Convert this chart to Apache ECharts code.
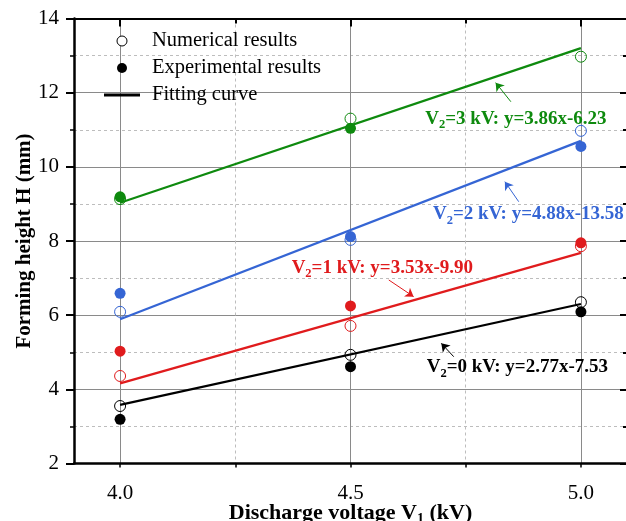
<!DOCTYPE html>
<html><head><meta charset="utf-8">
<script src="https://cdn.jsdelivr.net/npm/echarts@6/dist/echarts.min.js"></script>
<style>html,body{margin:0;padding:0;background:#fff}#c{width:626px;height:521px}</style>
</head><body><div id="c"></div>
<script>
// ---- data ----
const voltages = [4.0, 4.5, 5.0];
const xTickValues = [4.0, 4.5, 5.0];
const xMinorTickValues = [4.25, 4.75];
const v2Values = [0, 1, 2, 3];
const numerical0 = [3.55, 4.93, 6.35];
const numerical1 = [4.36, 5.71, 7.86];
const numerical2 = [6.09, 8.03, 10.97];
const numerical3 = [9.13, 11.30, 12.97];
const experimental0 = [3.19, 4.61, 6.09];
const experimental1 = [5.03, 6.25, 7.95];
const experimental2 = [6.59, 8.12, 10.55];
const experimental3 = [9.19, 11.04, null];
const fitEnds = [4.0, 5.0];
const fit0 = [3.58, 6.30];
const fit1 = [4.16, 7.68];
const fit2 = [5.89, 10.70];
const fit3 = [9.03, 13.20];
const equations = ['y=2.77x-7.53', 'y=3.53x-9.90', 'y=4.88x-13.58', 'y=3.86x-6.23'];

const numerical = [numerical0, numerical1, numerical2, numerical3];
const experimental = [experimental0, experimental1, experimental2, experimental3];
const fits = [fit0, fit1, fit2, fit3];
const colors = ['#000000', '#e01b1d', '#3565d4', '#0e8a0e'];
// annotation anchors (data coordinates): label centre, arrow tail, arrow head
const annot = [
  {label: [4.862, 4.59], tail: [4.724, 4.88], head: [4.697, 5.24]},
  {label: [4.569, 7.27], tail: [4.583, 6.95], head: [4.637, 6.50]},
  {label: [4.886, 8.72], tail: [4.865, 9.06], head: [4.835, 9.60]},
  {label: [4.859, 11.30], tail: [4.848, 11.756], head: [4.815, 12.27]}
];

const FONT = '"Liberation Serif", "Times New Roman", serif';
const pairs = (xs, ys) => xs.map((x, i) => [x, ys[i]]).filter(p => p[1] != null);

const series = [];
v2Values.forEach((v, k) => {
  const c = colors[k];
  const a = annot[k];
  series.push({
    type: 'line', name: 'fit' + v, data: pairs(fitEnds, fits[k]),
    showSymbol: false, symbol: 'none', z: 2, silent: true,
    lineStyle: {color: c, width: 2.2},
    markLine: {
      silent: true, animation: false, symbol: ['none', 'arrow'], symbolSize: 8,
      label: {show: false},
      lineStyle: {color: c, width: 1, type: 'solid'},
      data: [[{coord: a.tail}, {coord: a.head}]]
    },
    markPoint: {
      silent: true, animation: false, symbol: 'circle', symbolSize: 1,
      itemStyle: {color: 'rgba(0,0,0,0)'},
      label: {
        show: true, position: 'inside',
        formatter: '{a|V}{s|2}{a|=' + v + ' kV: ' + equations[k] + '}',
        rich: {
          a: {fontFamily: FONT, fontWeight: 'bold', fontSize: 19, color: c, lineHeight: 25},
          s: {fontFamily: FONT, fontWeight: 'bold', fontSize: 12.5, color: c, lineHeight: 12, verticalAlign: 'bottom'}
        }
      },
      data: [{coord: a.label}]
    }
  });
  series.push({
    type: 'scatter', name: 'num' + v, data: pairs(voltages, numerical[k]),
    symbol: 'circle', symbolSize: 11, z: 3, silent: true,
    itemStyle: {color: 'rgba(255,255,255,0)', borderColor: c, borderWidth: 1, opacity: 1}
  });
  series.push({
    type: 'scatter', name: 'exp' + v, data: pairs(voltages, experimental[k]),
    symbol: 'circle', symbolSize: 11, z: 4, silent: true,
    itemStyle: {color: c, opacity: 1}
  });
});
// legend-only series
series.push({type: 'scatter', name: 'Numerical results', data: []});
series.push({type: 'scatter', name: 'Experimental results', data: []});
series.push({type: 'scatter', name: 'Fitting curve', data: []});

const option = {
  animation: false,
  backgroundColor: '#fff',
  grid: {left: 74, right: -1, top: 18.5, bottom: 57.5, containLabel: false, outerBoundsMode: 'none'},
  legend: {
    orient: 'vertical', left: 104, top: 30.5, padding: 0, itemWidth: 36, itemHeight: 10, itemGap: 6,
    selectedMode: false,
    textStyle: {fontFamily: FONT, fontSize: 20.5, lineHeight: 20, color: '#000', padding: [0, 0, 0, 7]},
    data: [
      {name: 'Numerical results', icon: 'circle', itemStyle: {color: '#fff', borderColor: '#000', borderWidth: 1, opacity: 1}},
      {name: 'Experimental results', icon: 'circle', itemStyle: {color: '#000', borderWidth: 0, opacity: 1}},
      {name: 'Fitting curve', icon: 'path://M0,0L36,0L36,3L0,3Z', itemStyle: {color: '#000', borderWidth: 0, opacity: 1}}
    ]
  },
  xAxis: [
    {
      type: 'value', position: 'bottom', min: 3.9, max: 5.1,
      name: '{a|Discharge voltage V}{s|1}{a| (kV)}', nameLocation: 'middle', nameGap: 36, nameMoveOverlap: false,
      nameTextStyle: {rich: {
        a: {fontFamily: FONT, fontWeight: 'bold', fontSize: 22, color: '#000', lineHeight: 27},
        s: {fontFamily: FONT, fontWeight: 'bold', fontSize: 14, color: '#000', lineHeight: 14, verticalAlign: 'bottom'}
      }},
      axisLine: {show: true, onZero: false, lineStyle: {color: '#000', width: 2.5}},
      axisTick: {show: true, customValues: xTickValues, length: 4, lineStyle: {color: '#000', width: 1.5}},
      axisLabel: {customValues: xTickValues, formatter: v => v.toFixed(1), fontFamily: FONT, fontSize: 21, color: '#000', margin: 19},
      splitLine: {show: true, lineStyle: {color: '#8a8a8a', width: 1}}
    },
    {
      type: 'value', position: 'bottom', min: 3.9, max: 5.1,
      axisLine: {show: false},
      axisTick: {show: true, customValues: xMinorTickValues, length: 4, lineStyle: {color: '#000', width: 1.5}},
      axisLabel: {show: false},
      splitLine: {show: true, lineStyle: {color: '#bdbdbd', width: 1, type: [3, 3]}}
    },
    {
      type: 'value', position: 'top', min: 3.9, max: 5.1,
      axisLine: {show: true, onZero: false, lineStyle: {color: '#000', width: 2}},
      axisTick: {show: true, inside: true, customValues: xTickValues, length: 8, lineStyle: {color: '#000', width: 2}},
      axisLabel: {show: false}, splitLine: {show: false}
    },
    {
      type: 'value', position: 'top', min: 3.9, max: 5.1,
      axisLine: {show: false},
      axisTick: {show: true, inside: true, customValues: xMinorTickValues, length: 5, lineStyle: {color: '#000', width: 2}},
      axisLabel: {show: false}, splitLine: {show: false}
    }
  ],
  yAxis: [
    {
      type: 'value', position: 'left', min: 2, max: 14, interval: 2,
      name: 'Forming height H (mm)', nameLocation: 'middle', nameGap: 39, nameMoveOverlap: false,
      nameTextStyle: {fontFamily: FONT, fontWeight: 'bold', fontSize: 21, color: '#000'},
      axisLine: {show: true, onZero: false, lineStyle: {color: '#000', width: 2.5}},
      axisTick: {show: true, length: 8, lineStyle: {color: '#000', width: 2}},
      minorTick: {show: true, splitNumber: 2, length: 4, lineStyle: {color: '#000', width: 1.5}},
      axisLabel: {fontFamily: FONT, fontSize: 21, color: '#000', margin: 15},
      splitLine: {show: true, lineStyle: {color: '#8a8a8a', width: 1}},
      minorSplitLine: {show: true, lineStyle: {color: '#bdbdbd', width: 1, type: [3, 3]}}
    },
    {
      type: 'value', position: 'right', min: 2, max: 14, interval: 2,
      axisLine: {show: false},
      axisTick: {show: true, inside: true, length: 7, lineStyle: {color: '#000', width: 2}},
      minorTick: {show: true, splitNumber: 2, length: 4, lineStyle: {color: '#000', width: 2}},
      axisLabel: {show: false}, splitLine: {show: false}
    }
  ],
  series: series
};
const chart = echarts.init(document.getElementById('c'), null, {renderer: 'canvas'});
chart.setOption(option);
</script></body></html>
